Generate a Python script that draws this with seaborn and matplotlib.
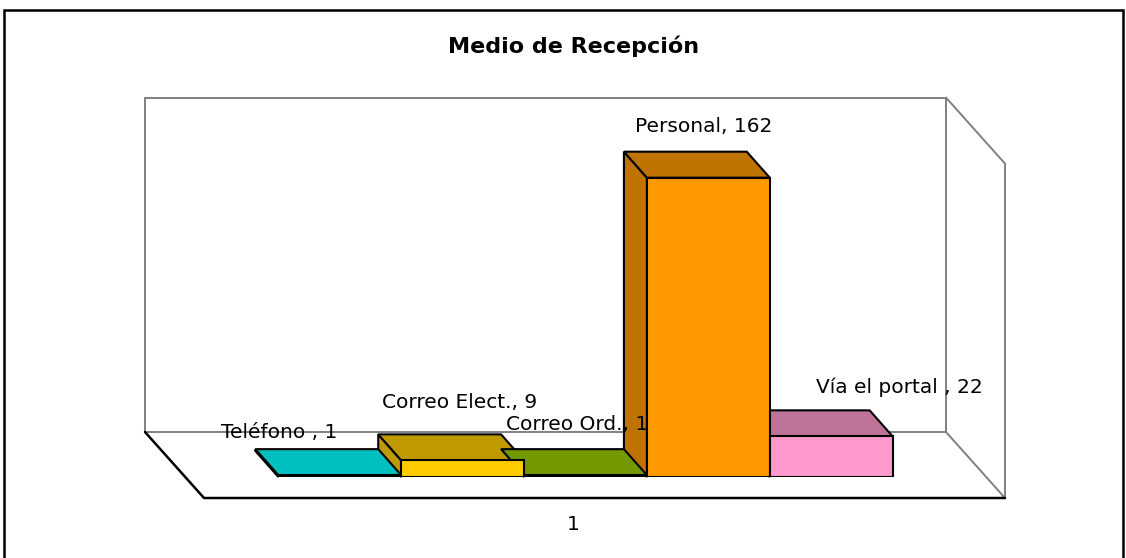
import matplotlib
matplotlib.use('Agg')
import matplotlib.pyplot as plt
import matplotlib.colors as mcolors
from matplotlib.patches import Polygon, Rectangle
import seaborn as sns

# datos
medios = ['Teléfono ', 'Correo Elect.', 'Correo Ord.', 'Personal', 'Vía el portal ']
cantidades = [1, 9, 1, 162, 22]
categoria = '1'
titulo = 'Medio de Recepción'

colores_frente = ['#00FFFF', '#FFCC00', '#99CC00', '#FF9900', '#FF99CC']
# caras laterales / superiores mas oscuras (como el 3D de Excel)
colores_sombra = [tuple(c * 0.75 for c in mcolors.to_rgb(col)) for col in colores_frente]

# desplazamiento de las etiquetas en pixeles (Excel las mueve para no chocar)
etq_dx = [-61, -3, -8, -5, 68]
etq_dy = [43, 58, 51, 51, 49]

sns.set_style('white')
plt.rcParams['font.family'] = ['DejaVu Sans']
plt.rcParams['text.color'] = 'black'

W, H = 1126, 558
fig = plt.figure(figsize=(W / 100, H / 100), dpi=100)
ax = fig.add_axes([185 / W, (H - 477) / H, 801 / W, 334.4 / H])

sns.barplot(x=medios, y=cantidades, hue=medios, order=medios, hue_order=medios,
            palette=colores_frente, width=1, saturation=1, edgecolor='black',
            linewidth=1.5, legend=False, ax=ax)
# las barras, de izquierda a derecha (antes de agregar otros parches)
barras = sorted([p for p in ax.patches if isinstance(p, Rectangle)],
                key=lambda p: p.get_x())

x0, x1 = -1.26, 5.26
y0, y1 = 0, 181
ax.set_xlim(x0, x1)
ax.set_ylim(y0, y1)
ax.axis('off')

# pixeles -> unidades de datos
sx = ax.bbox.width / (x1 - x0)
sy = ax.bbox.height / (y1 - y0)
def px(dx, dy):
    return dx / sx, dy / sy

prof = px(-23, 26)     # fondo de cada barra
fondo = px(-40, 45)    # pared del fondo
frente = px(19, -21)   # borde delantero del piso

gris = '#808080'
bx, by = fondo
fx, fy = frente
ax.add_patch(Rectangle((x0 + bx, y0 + by), x1 - x0, y1 - y0, fill=False,
                       ec=gris, lw=1.4, clip_on=False, zorder=0.5))
ax.plot([x1 + bx, x1 + fx, x1 + fx], [y1 + by, y1 + fy, y0 + fy],
        color=gris, lw=1.4, clip_on=False, zorder=0.5)
ax.plot([x1 + bx, x1 + fx], [y0 + by, y0 + fy], color=gris, lw=1.4,
        clip_on=False, zorder=0.5)
ax.plot([x0 + bx, x0 + fx, x1 + fx], [y0 + by, y0 + fy, y0 + fy],
        color='black', lw=1.8, clip_on=False, zorder=0.6)

# caras 3D de las barras
dx, dy = prof
for i, p in enumerate(barras):
    xl = p.get_x()
    xr = xl + p.get_width()
    h = p.get_height()
    lado = [(xl, 0), (xl + dx, dy), (xl + dx, h + dy), (xl, h)]
    arriba = [(xl, h), (xr, h), (xr + dx, h + dy), (xl + dx, h + dy)]
    ax.add_patch(Polygon(lado, fc=colores_sombra[i], ec='black', lw=1.5,
                         zorder=2, clip_on=False))
    ax.add_patch(Polygon(arriba, fc=colores_sombra[i], ec='black', lw=1.5,
                         zorder=3, clip_on=False))
    p.set_zorder(4)
    ax.annotate(f'{medios[i]}, {cantidades[i]}', xy=((xl + xr) / 2, h),
                xytext=(etq_dx[i], etq_dy[i]), textcoords='offset pixels',
                ha='center', va='center', fontsize=14.5, zorder=6,
                color='black', annotation_clip=False)

ax.annotate(categoria, xy=(2, 0), xytext=(-12, -47), textcoords='offset pixels',
            ha='center', va='center', fontsize=14.5, color='black',
            annotation_clip=False)

fig.text(574 / W, 1 - 46 / H, titulo, ha='center', va='center',
         fontsize=16, fontweight='bold', color='black')

# marco del grafico
fig.add_artist(Rectangle((4 / W, -0.05), 1119 / W, 1 - 10 / H + 0.05,
                         transform=fig.transFigure, fill=False, ec='black', lw=1.8))

fig.savefig('out.png', dpi=100)
